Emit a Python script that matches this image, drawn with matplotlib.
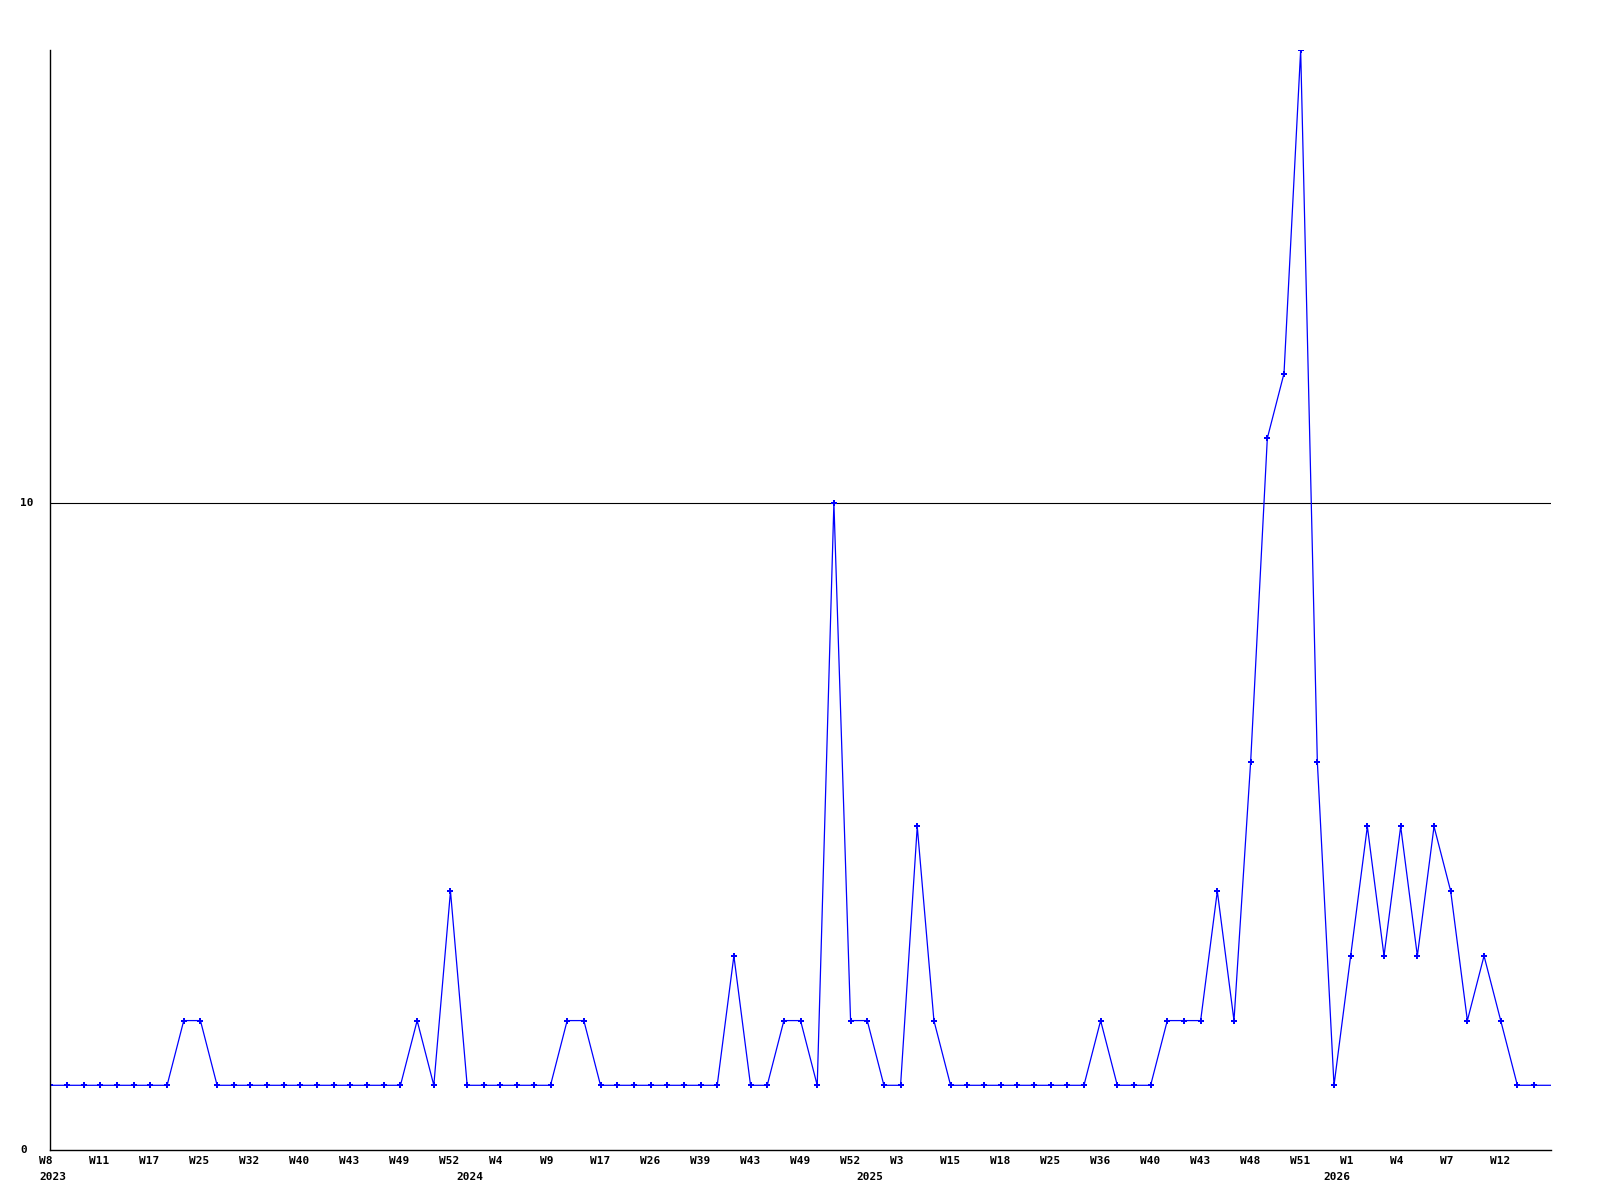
import matplotlib
matplotlib.use("Agg")
import matplotlib.pyplot as plt
import matplotlib.transforms as mtransforms

# weekly counts, one per week (last one is the running week, no marker)
counts = [1, 1, 1, 1, 1, 1, 1, 1, 2, 2,
          1, 1, 1, 1, 1, 1, 1, 1, 1, 1,
          1, 1, 2, 1, 4, 1, 1, 1, 1, 1,
          1, 2, 2, 1, 1, 1, 1, 1, 1, 1,
          1, 3, 1, 1, 2, 2, 1, 10, 2, 2,
          1, 1, 5, 2, 1, 1, 1, 1, 1, 1,
          1, 1, 1, 2, 1, 1, 1, 2, 2, 2,
          4, 2, 6, 11, 12, 17, 6, 1, 3, 5,
          3, 5, 3, 5, 4, 2, 3, 2, 1, 1,
          1]

week_labels = ["W8", "W11", "W17", "W25", "W32", "W40", "W43", "W49", "W52", "W4",
               "W9", "W17", "W26", "W39", "W43", "W49", "W52", "W3", "W15", "W18",
               "W25", "W36", "W40", "W43", "W48", "W51", "W1", "W4", "W7", "W12"]
label_step = 3

year_labels = ["2023", "2024", "2025", "2026"]
year_index = [0, 25, 49, 77]

y_ticks = [0, 10]

# ======================================================
# FIGURE
# ======================================================
fig = plt.figure(figsize=(16, 12), dpi=100)
ax = fig.add_axes([0.0315, 0.04167, 0.9377, 0.91667])

x = list(range(len(counts)))
ax.plot(x, counts, color="#0000ff", linewidth=0.9)
ax.plot(x[:-1], counts[:-1], linestyle="none", marker="P",
        markersize=4, color="#0000ff", markeredgewidth=0)

ax.set_xlim(0, len(counts) - 1)
ax.set_ylim(0, 17)

for s in ["top", "right"]:
    ax.spines[s].set_visible(False)
for s in ["left", "bottom"]:
    ax.spines[s].set_linewidth(1.0)
    ax.spines[s].set_color("black")

ax.axhline(10, color="black", linewidth=0.8, zorder=0)

ax.set_xticks([])
ax.set_yticks([])

font = dict(family="DejaVu Sans Mono", fontweight="bold", fontsize=8)

# y labels, left aligned near the figure edge
ytrans = mtransforms.blended_transform_factory(fig.transFigure, ax.transData)
for v in y_ticks:
    fig.text(20 / 1600, v, str(v), ha="left", va="center",
             transform=ytrans, **font)

# x labels: left aligned a bit before the tick position
trans = mtransforms.blended_transform_factory(ax.transData, ax.transAxes)
trans_off = mtransforms.offset_copy(trans, fig=fig, x=-11, y=0, units="dots")
for k, lab in enumerate(week_labels):
    ax.text(k * label_step, -0.0055, lab, transform=trans_off,
            ha="left", va="top", **font)

for lab, idx in zip(year_labels, year_index):
    ax.text(idx, -0.02, lab, transform=trans_off, ha="left", va="top", **font)

fig.savefig("out.png", dpi=100, facecolor="white")
